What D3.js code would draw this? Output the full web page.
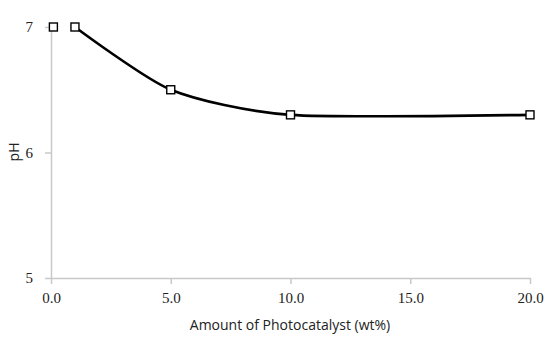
<!DOCTYPE html>
<html>
<head>
<meta charset="utf-8">
<title>pH vs amount of photocatalyst</title>
<style>
body { margin: 0; background: #fff; }
.tick text { font: 15px "Liberation Serif", serif; fill: #222; }
.axis path, .axis line { stroke: #c8c8c8; stroke-width: 1.5px; }
.title { font: 14px "Open Sans", sans-serif; fill: #222; }
</style>
<script src="https://d3js.org/d3.v7.min.js"></script>
</head>
<body>
<div id="result"></div>
<script>
var loading = [0.1, 1, 5, 10, 20]
var ph = [7, 7, 6.5, 6.3, 6.3]
var xTicks = [0, 5, 10, 15, 20]
var yTicks = [5, 6, 7]

var svg = d3.select('#result').append('svg').attr('width', 550).attr('height', 344)

var x = d3.scaleLinear().domain([0, 20]).range([51, 530])
var y = d3.scaleLinear().domain([5, 7]).range([278, 27])

svg.append('g').attr('class', 'axis').attr('transform', 'translate(0,278)')
  .call(d3.axisBottom(x).tickValues(xTicks).tickFormat(d3.format('.1f')).tickSize(6).tickSizeOuter(0).tickPadding(8))

svg.append('g').attr('class', 'axis').attr('transform', 'translate(51,0)')
  .call(d3.axisLeft(y).tickValues(yTicks).tickFormat(d3.format('d')).tickSize(6).tickSizeOuter(0).tickPadding(12))

var pts = loading.map((v, i) => [v, ph[i]])

// the first point stands alone, the smoothed line starts at 1 wt%
svg.append('path')
  .datum(pts.slice(1))
  .attr('fill', 'none')
  .attr('stroke', '#000')
  .attr('stroke-width', 2.6)
  .attr('d', d3.line().x(d => x(d[0])).y(d => y(d[1])).curve(d3.curveCardinal.tension(0.3)))

svg.selectAll('rect.mk').data(pts).enter().append('rect')
  .attr('class', 'mk')
  .attr('x', d => x(d[0]) - 4).attr('y', d => y(d[1]) - 4)
  .attr('width', 8).attr('height', 8)
  .attr('fill', '#fff').attr('stroke', '#000').attr('stroke-width', 1.4)

svg.append('text').attr('class', 'title').attr('x', 290).attr('y', 330)
  .attr('text-anchor', 'middle').text('Amount of Photocatalyst (wt%)')

svg.append('text').attr('class', 'title')
  .attr('transform', 'translate(19,152) rotate(-90)')
  .attr('text-anchor', 'middle').text('pH')
</script>
</body>
</html>
